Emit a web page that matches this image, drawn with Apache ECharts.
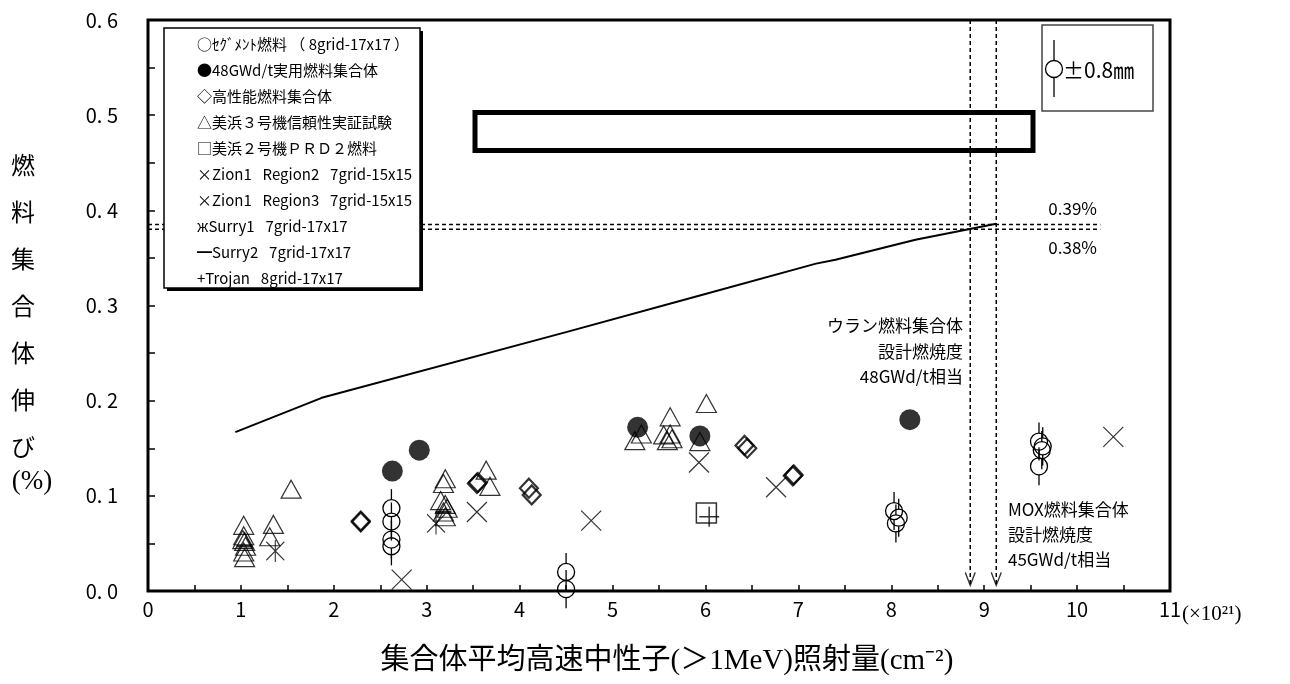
<!DOCTYPE html>
<html>
<head>
<meta charset="utf-8">
<script src="https://cdn.jsdelivr.net/npm/echarts@6/dist/echarts.min.js"></script>
<style>
html, body { margin: 0; padding: 0; background: #fff; }
#main { width: 1290px; height: 684px; }
</style>
</head>
<body>
<div id="main"></div>
<script>
// 設計曲線 (照射量, 伸び%)
var curveData = [[0.94, 0.167], [1.87, 0.203], [4.5, 0.272], [5.92, 0.31], [7.19, 0.344], [7.4, 0.348], [8.26, 0.369], [9.13, 0.386]];
// ○ セグメント燃料 (誤差 ±0.8mm)
var segmentData = [[2.62, 0.087], [2.62, 0.073], [2.62, 0.054], [2.62, 0.047], [4.5, 0.020], [4.5, 0.002],
    [8.03, 0.084], [8.08, 0.077], [8.05, 0.071], [9.59, 0.157], [9.63, 0.152], [9.62, 0.148], [9.59, 0.131]];
var segmentErr = 0.02;
// ● 48GWd/t実用燃料集合体
var fuel48Data = [[2.63, 0.126], [2.92, 0.148], [5.27, 0.172], [5.94, 0.163], [8.2, 0.180]];
// ◇ 高性能燃料集合体
var highPerfData = [[2.29, 0.0725], [2.29, 0.0735], [3.54, 0.113], [3.55, 0.114], [4.1, 0.108], [4.13, 0.101],
    [6.42, 0.153], [6.45, 0.150], [6.94, 0.121], [6.95, 0.122]];
// △ 美浜3号機信頼性実証試験
var mihama3Data = [[1.03, 0.069], [1.03, 0.058], [1.02, 0.054], [1.04, 0.052], [1.05, 0.047], [1.03, 0.041], [1.04, 0.035],
    [1.35, 0.070], [1.31, 0.057], [1.54, 0.107],
    [3.2, 0.118], [3.18, 0.113], [3.15, 0.095], [3.2, 0.091], [3.22, 0.087], [3.18, 0.083], [3.2, 0.078],
    [3.64, 0.127], [3.68, 0.110],
    [5.24, 0.158], [5.31, 0.165], [5.94, 0.157],
    [5.62, 0.183], [5.55, 0.164], [5.62, 0.165], [5.64, 0.160], [5.59, 0.158], [6.01, 0.197]];
// □ 美浜2号機PRD2燃料
var mihama2Data = [[6.01, 0.082]];
// × Zion1 Region2 / Region3
var zion2Data = [[2.73, 0.012], [4.77, 0.074], [5.93, 0.135]];
var zion3Data = [[3.54, 0.083], [6.76, 0.109], [10.39, 0.162]];
// ж Surry1, − Surry2, + Trojan
var surry1Data = [[1.37, 0.042], [3.1, 0.071]];
var surry2Data = [[1.04, 0.047], [3.18, 0.083]];
var trojanData = [[6.04, 0.078]];
// 設計燃焼度相当の伸び・照射量
var limitElong = [0.385, 0.38];
var limitDose = [9.13, 8.85];
var limitLabels = ['0.39%', '0.38%'];
var hLineEnd = 10.25;

var gap = '\u2002 ';
var legendLines = [
    '○ｾｸﾞﾒﾝﾄ燃料 （ 8grid-17x17 ）',
    '●48GWd/t実用燃料集合体',
    '◇高性能燃料集合体',
    '△美浜３号機信頼性実証試験',
    '□美浜２号機ＰＲＤ２燃料',
    '×Zion1' + gap + 'Region2' + gap + '7grid-15x15',
    '×Zion1' + gap + 'Region3' + gap + '7grid-15x15',
    'жSurry1' + gap + '7grid-17x17',
    '━Surry2' + gap + '7grid-17x17',
    '+Trojan' + gap + '8grid-17x17'
];

var JP = '"Noto Sans CJK JP", sans-serif';
var SERIF = '"Liberation Serif", "Noto Sans CJK JP", serif';
var chart = echarts.init(document.getElementById('main'));

var openItem = { color: 'rgba(0,0,0,0)', borderColor: '#000', borderWidth: 1.2 };
var crossPath = 'path://M0,0L10,10M10,0L0,10';

function dashed(data) {
    return {
        type: 'line', data: data, symbol: 'none', silent: true, z: 1,
        lineStyle: { color: '#000', width: 1.5, type: [4, 3] }
    };
}

var series = [
    {
        type: 'line', data: curveData, symbol: 'none', silent: true,
        lineStyle: { color: '#000', width: 2 }
    },
    dashed([[0, limitElong[0]], [hLineEnd, limitElong[0]]]),
    dashed([[0, limitElong[1]], [hLineEnd, limitElong[1]]]),
    dashed([[limitDose[0], 0.6], [limitDose[0], 0.006]]),
    dashed([[limitDose[1], 0.6], [limitDose[1], 0.006]]),
    {
        type: 'scatter', silent: true,
        data: [[limitDose[0], 0.006], [limitDose[1], 0.006]],
        symbol: 'path://M0,0L5,12L10,0', symbolSize: [10, 13], symbolOffset: [0, '-50%'],
        itemStyle: { color: 'rgba(0,0,0,0)', borderColor: '#000', borderWidth: 1.5 }
    },
    {
        type: 'custom', silent: true, data: segmentData,
        renderItem: function(params, api) {
            var c = api.coord([api.value(0), api.value(1)]);
            var e = api.size([0, segmentErr])[1];
            var r = 8.5;
            var ls = { stroke: '#000', lineWidth: 1.3 };
            return {
                type: 'group',
                children: [
                    { type: 'line', shape: { x1: c[0], y1: c[1] - e, x2: c[0], y2: c[1] - r }, style: ls },
                    { type: 'line', shape: { x1: c[0], y1: c[1] + r, x2: c[0], y2: c[1] + e }, style: ls },
                    { type: 'circle', shape: { cx: c[0], cy: c[1], r: r }, style: { fill: 'rgba(0,0,0,0)', stroke: '#000', lineWidth: 1.3 } }
                ]
            };
        }
    },
    { type: 'scatter', silent: true, data: mihama3Data, symbol: 'triangle', symbolSize: [20, 18], itemStyle: openItem },
    { type: 'scatter', silent: true, data: fuel48Data, symbol: 'circle', symbolSize: 21, itemStyle: { color: '#000' } },
    { type: 'scatter', silent: true, data: highPerfData, symbol: 'diamond', symbolSize: [18, 19],
        itemStyle: { color: 'rgba(0,0,0,0)', borderColor: '#000', borderWidth: 2.2 } },
    { type: 'scatter', silent: true, data: mihama2Data, symbol: 'rect', symbolSize: 20, itemStyle: { color: 'rgba(0,0,0,0)', borderColor: '#000', borderWidth: 1.5 } },
    { type: 'scatter', silent: true, data: zion2Data, symbol: crossPath, symbolSize: 20, itemStyle: openItem },
    { type: 'scatter', silent: true, data: zion3Data, symbol: crossPath, symbolSize: 20, itemStyle: openItem },
    { type: 'scatter', silent: true, data: surry1Data, symbol: 'path://M0,1L10,11M10,1L0,11M5,0L5,12', symbolSize: [18, 22], itemStyle: openItem },
    { type: 'scatter', silent: true, data: surry2Data, symbol: 'rect', symbolSize: [16, 2.5], itemStyle: { color: '#000' } },
    { type: 'scatter', silent: true, data: trojanData, symbol: 'path://M5,0L5,10M0,5L10,5', symbolSize: 20, itemStyle: { color: 'rgba(0,0,0,0)', borderColor: '#000', borderWidth: 1.5 } }
];

// 凡例・注記
var graphic = [
    { type: 'rect', z: 10, shape: { x: 167, y: 31, width: 256, height: 260 }, style: { fill: '#000' } },
    { type: 'rect', z: 10, shape: { x: 164, y: 28, width: 256, height: 260 }, style: { fill: '#fff', stroke: '#000', lineWidth: 1.5 } },
    { type: 'rect', z: 10, shape: { x: 475, y: 112.5, width: 558, height: 38 }, style: { fill: 'rgba(0,0,0,0)', stroke: '#000', lineWidth: 5 } },
    { type: 'rect', z: 10, shape: { x: 1042, y: 25, width: 111, height: 86 }, style: { fill: '#fff', stroke: '#444', lineWidth: 1.5 } },
    { type: 'line', z: 11, shape: { x1: 1054, y1: 40, x2: 1054, y2: 60.5 }, style: { stroke: '#000', lineWidth: 1.3 } },
    { type: 'line', z: 11, shape: { x1: 1054, y1: 77.5, x2: 1054, y2: 97 }, style: { stroke: '#000', lineWidth: 1.3 } },
    { type: 'circle', z: 11, shape: { cx: 1054, cy: 69, r: 8.5 }, style: { fill: '#fff', stroke: '#000', lineWidth: 1.3 } },
    { type: 'text', z: 11, x: 1063, y: 70, style: { text: '±0.8㎜', font: '21px ' + JP, fill: '#000', textVerticalAlign: 'middle' } },
    { type: 'text', x: 23, y: 141.5, style: { text: '燃\n料\n集\n合\n体\n伸\nび', font: '24px ' + JP, lineHeight: 47, fill: '#000', textAlign: 'center', textVerticalAlign: 'top' } },
    { type: 'text', x: 32, y: 482, style: { text: '(%)', font: '27px ' + SERIF, fill: '#000', textAlign: 'center', textVerticalAlign: 'middle' } },
    { type: 'text', x: 667, y: 661, style: { text: '集合体平均高速中性子(＞1MeV)照射量(cm⁻²)', font: '29px ' + SERIF, fill: '#000', textAlign: 'center', textVerticalAlign: 'middle' } },
    { type: 'text', x: 1182, y: 614, style: { text: '(×10²¹)', font: '21px ' + SERIF, fill: '#000', textVerticalAlign: 'middle' } },
    { type: 'text', x: 1097, y: 209, style: { text: limitLabels[0], font: '17px ' + JP, fill: '#000', textAlign: 'right', textVerticalAlign: 'middle' } },
    { type: 'text', x: 1097, y: 248, style: { text: limitLabels[1], font: '17px ' + JP, fill: '#000', textAlign: 'right', textVerticalAlign: 'middle' } },
    { type: 'text', x: 963, y: 351.5, style: { text: 'ウラン燃料集合体\n設計燃焼度\n48GWd/t相当', font: '17px ' + JP, lineHeight: 25.5, fill: '#000', textAlign: 'right', textVerticalAlign: 'middle' } },
    { type: 'text', x: 1008, y: 535, style: { text: 'MOX燃料集合体\n設計燃焼度\n45GWd/t相当', font: '17px ' + JP, lineHeight: 25, fill: '#000', textAlign: 'left', textVerticalAlign: 'middle' } }
];
legendLines.forEach(function(t, i) {
    graphic.push({ type: 'text', z: 11, x: 197, y: 44 + i * 26, style: { text: t, font: '15px ' + JP, fill: '#000', textVerticalAlign: 'middle' } });
});

var tickStyle = { color: '#000', width: 1.5 };
var option = {
    animation: false,
    backgroundColor: '#fff',
    grid: { left: 148, right: 120, top: 20, bottom: 93, show: true, borderColor: '#000', borderWidth: 3 },
    xAxis: {
        type: 'value', min: 0, max: 11, interval: 1,
        axisLine: { show: false },
        axisTick: { show: true, inside: true, length: 6, lineStyle: tickStyle },
        minorTick: { show: true, splitNumber: 2, length: 6, lineStyle: tickStyle },
        splitLine: { show: false },
        axisLabel: { color: '#000', fontSize: 20, fontFamily: JP, margin: 8 }
    },
    yAxis: {
        type: 'value', min: 0, max: 0.6, interval: 0.1,
        axisLine: { show: false },
        axisTick: { show: true, inside: true, length: 7, lineStyle: tickStyle },
        minorTick: { show: true, splitNumber: 2, length: 7, lineStyle: tickStyle },
        splitLine: { show: false },
        axisLabel: {
            color: '#000', fontSize: 20, fontFamily: JP, margin: 30,
            formatter: function(v) { return v.toFixed(1).replace('.', '. '); }
        }
    },
    graphic: graphic,
    series: series
};
chart.setOption(option);
</script>
</body>
</html>
